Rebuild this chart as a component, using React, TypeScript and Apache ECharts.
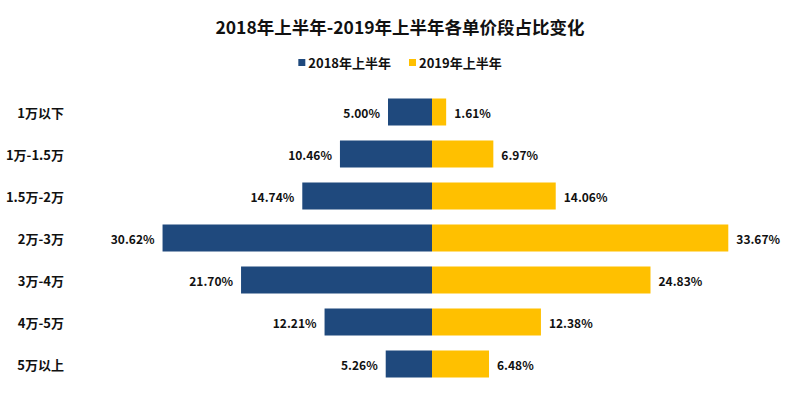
import React, { useEffect, useRef } from "react";
import * as echarts from "echarts";

const categories = ["1万以下", "1万-1.5万", "1.5万-2万", "2万-3万", "3万-4万", "4万-5万", "5万以上"];
const values2018 = [5.0, 10.46, 14.74, 30.62, 21.7, 12.21, 5.26];
const values2019 = [1.61, 6.97, 14.06, 33.67, 24.83, 12.38, 6.48];
const seriesNames = ["2018年上半年", "2019年上半年"];

const FONT = "'Noto Sans CJK SC', 'Noto Sans', sans-serif";

export default function App() {
  const ref = useRef<HTMLDivElement>(null);
  useEffect(() => {
    document.body.style.margin = "0";
    const chart = echarts.init(ref.current!, null, { renderer: "svg" });
    const labelStyle = {
      show: true,
      fontSize: 12,
      fontWeight: "bold" as const,
      color: "#111",
      fontFamily: FONT,
      distance: 8,
      formatter: (p: any) => Math.abs(p.value).toFixed(2) + "%",
    };
    chart.setOption({
      animation: false,
      backgroundColor: "#ffffff",
      title: {
        text: "2018年上半年-2019年上半年各单价段占比变化",
        left: "center",
        top: 13,
        textStyle: { fontSize: 17.5, fontWeight: "bold", color: "#111", fontFamily: FONT },
      },
      legend: {
        data: seriesNames,
        top: 51,
        left: "center",
        icon: "rect",
        itemWidth: 7,
        itemHeight: 7,
        itemGap: 18,
        textStyle: { fontSize: 13, fontWeight: "bold", color: "#111", fontFamily: FONT, padding: [0, 0, 0, -2] },
      },
      grid: { left: 124, right: 60, top: 91, bottom: 16, containLabel: false },
      xAxis: {
        type: "value",
        min: -35,
        max: 35,
        show: false,
      },
      yAxis: {
        type: "category",
        data: categories,
        inverse: true,
        axisLine: { show: false, onZero: false },
        axisTick: { show: false },
        axisLabel: {
          margin: 60,
          fontSize: 13,
          fontWeight: "bold",
          color: "#111",
          fontFamily: FONT,
        },
      },
      series: [
        {
          name: seriesNames[0],
          type: "bar",
          data: values2018.map((v) => -v),
          barWidth: 27,
          barGap: "-100%",
          itemStyle: { color: "#1F497D" },
          label: { ...labelStyle, position: "left" },
        },
        {
          name: seriesNames[1],
          type: "bar",
          data: values2019,
          barWidth: 27,
          itemStyle: { color: "#FFC000" },
          label: { ...labelStyle, position: "right" },
        },
      ],
    });
    return () => chart.dispose();
  }, []);
  return <div ref={ref} style={{ width: 800, height: 401 }} />;
}
